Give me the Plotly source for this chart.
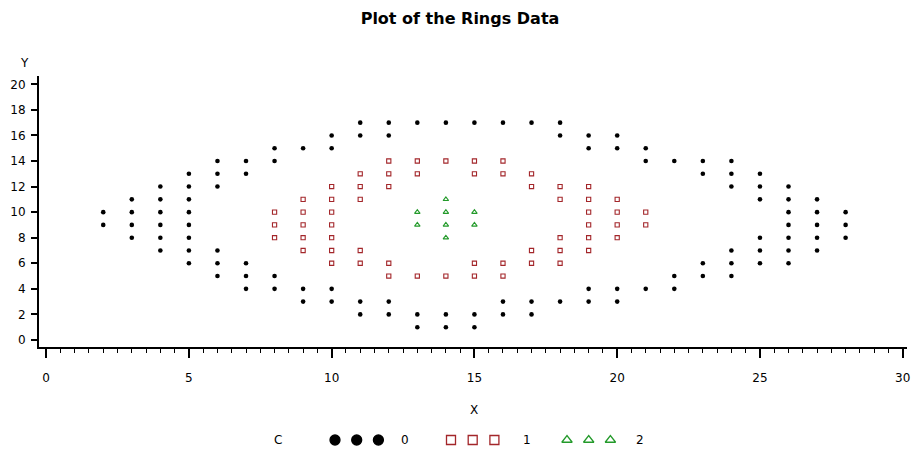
import plotly.graph_objects as go

# ---- Rings data: three groups of (X, Y) points, C = 0, 1, 2 ----
x_c0 = ([2] * 2 + [3] * 4 + [4] * 6 + [5] * 8 + [6] * 6 + [7] * 5 + [8] * 4 + [9] * 3
        + [10] * 4 + [11] * 4 + [12] * 4 + [13] * 3 + [14] * 3 + [15] * 3 + [16] * 3
        + [17] * 3 + [18] * 3 + [19] * 4 + [20] * 4 + [21] * 3 + [22] * 3 + [23] * 4
        + [24] * 6 + [25] * 6 + [26] * 7 + [27] * 5 + [28] * 3)
y_c0 = [9, 10,
        8, 9, 10, 11,
        7, 8, 9, 10, 11, 12,
        6, 7, 8, 9, 10, 11, 12, 13,
        5, 6, 7, 12, 13, 14,
        4, 5, 6, 13, 14,
        4, 5, 14, 15,
        3, 4, 15,
        3, 4, 15, 16,
        2, 3, 16, 17,
        2, 3, 16, 17,
        1, 2, 17,
        1, 2, 17,
        1, 2, 17,
        2, 3, 17,
        2, 3, 17,
        3, 16, 17,
        3, 4, 15, 16,
        3, 4, 15, 16,
        4, 14, 15,
        4, 5, 14,
        5, 6, 13, 14,
        5, 6, 7, 12, 13, 14,
        6, 7, 8, 11, 12, 13,
        6, 7, 8, 9, 10, 11, 12,
        7, 8, 9, 10, 11,
        8, 9, 10]

x_c1 = ([8] * 3 + [9] * 5 + [10] * 7 + [11] * 5 + [12] * 5 + [13] * 3 + [14] * 2
        + [15] * 4 + [16] * 4 + [17] * 4 + [18] * 5 + [19] * 6 + [20] * 4 + [21] * 2)
y_c1 = [8, 9, 10,
        7, 8, 9, 10, 11,
        6, 7, 8, 9, 10, 11, 12,
        6, 7, 11, 12, 13,
        5, 6, 12, 13, 14,
        5, 13, 14,
        5, 14,
        5, 6, 13, 14,
        5, 6, 13, 14,
        6, 7, 12, 13,
        6, 7, 8, 11, 12,
        7, 8, 9, 10, 11, 12,
        8, 9, 10, 11,
        9, 10]

x_c2 = [13, 13, 14, 14, 14, 14, 15, 15]
y_c2 = [9, 10, 8, 9, 10, 11, 9, 10]

group_labels = ["0", "1", "2"]
group_colors = ["#000000", "#a3262a", "#239a2a"]
plot_symbols = ["circle", "square-open", "triangle-up-open"]
plot_sizes = [4.6, 4.2, 4.8]
plot_lw = [0, 1.1, 1.1]
key_symbols = ["circle", "square-open", "triangle-up-open"]
key_sizes = [10, 9, 9]

W, H = 912, 453
FONT = "DejaVu Sans"

fig = go.Figure()

for xs, ys, sym, size, lw, col, lab in zip([x_c0, x_c1, x_c2], [y_c0, y_c1, y_c2],
                                           plot_symbols, plot_sizes, plot_lw,
                                           group_colors, group_labels):
    fig.add_trace(go.Scatter(
        x=xs, y=ys, mode="markers", name=lab, showlegend=False,
        marker=dict(symbol=sym, size=size, color=col, line=dict(color=col, width=lw)),
        xaxis="x", yaxis="y",
    ))

# Legend row: three keys per group, drawn on a pixel-space overlay axis
key_start = [335, 451, 567]
key_gap = 21.7
key_y = 440
for g in range(3):
    fig.add_trace(go.Scatter(
        x=[key_start[g] + key_gap * i for i in range(3)], y=[key_y] * 3,
        mode="markers", showlegend=False, hoverinfo="skip",
        marker=dict(symbol=key_symbols[g], size=key_sizes[g], color=group_colors[g],
                    line=dict(color=group_colors[g], width=1.3)),
        xaxis="x2", yaxis="y2", cliponaxis=False,
    ))

label_x = [405, 527, 640]
annotations = [dict(x=278, y=key_y, text="C")]
annotations += [dict(x=lx, y=key_y, text=t) for lx, t in zip(label_x, group_labels)]
annotations += [dict(x=474, y=410, text="X"), dict(x=24, y=63, text="Y")]
for a in annotations:
    a.update(xref="x2", yref="y2", showarrow=False, xanchor="center", yanchor="middle",
             font=dict(family=FONT, size=12, color="#000000"))

left, right, top, bottom = 39, 907, 76, 347
axis_common = dict(showline=True, linewidth=2, linecolor="black", ticks="outside",
                   tickcolor="black", tickwidth=1.5, showgrid=False, zeroline=False,
                   automargin=False, fixedrange=True,
                   tickfont=dict(family=FONT, size=12, color="black"))

fig.update_layout(
    width=W, height=H, autosize=False,
    margin=dict(l=0, r=0, t=0, b=0),
    paper_bgcolor="white", plot_bgcolor="rgba(0,0,0,0)",
    title=dict(text="<b>Plot of the Rings Data</b>", x=460 / W, xanchor="center",
               y=1 - 18 / H, yanchor="middle",
               font=dict(family=FONT, size=16, color="black")),
    xaxis=dict(domain=[left / W, right / W], range=[-0.25, 30.15], anchor="y",
               tick0=0, dtick=5, ticklen=9, ticklabelstandoff=10,
               minor=dict(dtick=0.5, ticklen=4, tickwidth=1.2, tickcolor="black",
                          ticks="outside", showgrid=False),
               **axis_common),
    yaxis=dict(domain=[(H - bottom) / H, (H - top) / H], range=[-0.55, 20.65], anchor="x",
               tick0=0, dtick=2, ticklen=6, ticklabelstandoff=3,
               **axis_common),
    xaxis2=dict(domain=[0, 1], range=[0, W], anchor="y2", visible=False, fixedrange=True),
    yaxis2=dict(domain=[0, 1], range=[H, 0], anchor="x2", visible=False, fixedrange=True),
    annotations=annotations,
)

fig.write_html("out.html")
